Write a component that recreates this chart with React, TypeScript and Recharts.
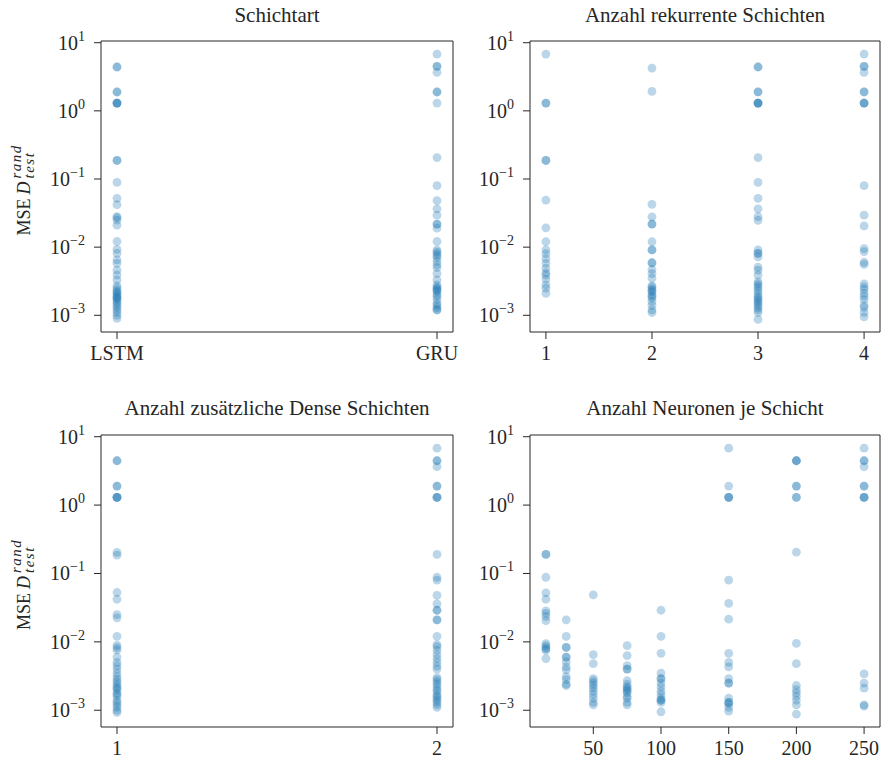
import React from 'react';
import { ScatterChart, Scatter, XAxis, YAxis, ReferenceLine } from 'recharts';

const FONT = '"Liberation Serif", "Times New Roman", serif';
const INK = '#262626';
const DOT = '#1f77b4';

// Panel 1: Schichtart
const layerTypes = ['LSTM', 'GRU'];
const mseLSTM = [4.4, 4.4, 1.89, 1.89, 1.3, 1.3, 1.3, 1.3, 0.187, 0.187, 0.089, 0.052, 0.042, 0.028, 0.027, 0.0249, 0.021, 0.0121, 0.0093, 0.0081, 0.0065, 0.0058, 0.0046, 0.0039, 0.0033, 0.0027, 0.0025, 0.0023, 0.0022, 0.0021, 0.002, 0.0019, 0.0018, 0.0018, 0.0017, 0.0016, 0.0015, 0.0014, 0.0013, 0.0012, 0.0011, 0.001, 0.0009];
const mseGRU = [6.8, 4.5, 4.5, 3.67, 1.89, 1.89, 1.3, 0.206, 0.08, 0.048, 0.0365, 0.0295, 0.0218, 0.0218, 0.019, 0.0121, 0.0091, 0.0085, 0.008, 0.0075, 0.007, 0.0062, 0.0055, 0.005, 0.0041, 0.0033, 0.0028, 0.0026, 0.0025, 0.0024, 0.0023, 0.0022, 0.002, 0.0019, 0.0017, 0.0015, 0.0014, 0.0013, 0.0012, 0.0012];

// Panel 2: Anzahl rekurrente Schichten
const recurrentCounts = [1, 2, 3, 4];
const mseRec1 = [6.8, 1.3, 1.3, 0.187, 0.187, 0.049, 0.0192, 0.012, 0.0091, 0.008, 0.0068, 0.0058, 0.0049, 0.0042, 0.0039, 0.0034, 0.0028, 0.0025, 0.0021];
const mseRec2 = [4.25, 1.93, 0.0423, 0.0279, 0.0218, 0.0218, 0.012, 0.0091, 0.0091, 0.0059, 0.0059, 0.0047, 0.0041, 0.0035, 0.0027, 0.0026, 0.0024, 0.0023, 0.0022, 0.002, 0.0019, 0.0018, 0.0016, 0.0014, 0.0012, 0.0011];
const mseRec3 = [4.4, 4.4, 1.9, 1.9, 1.3, 1.3, 1.3, 1.3, 0.206, 0.089, 0.052, 0.0365, 0.028, 0.0248, 0.0091, 0.0081, 0.0081, 0.0072, 0.0051, 0.0046, 0.0039, 0.0031, 0.0029, 0.0027, 0.0025, 0.0023, 0.0021, 0.0019, 0.0018, 0.0017, 0.0016, 0.0015, 0.0014, 0.0013, 0.0012, 0.0011, 0.00087];
const mseRec4 = [6.8, 4.5, 4.5, 3.67, 1.9, 1.9, 1.3, 1.3, 1.3, 0.08, 0.0295, 0.0205, 0.0095, 0.0086, 0.006, 0.0056, 0.0029, 0.0026, 0.0024, 0.0021, 0.0019, 0.0017, 0.0014, 0.0013, 0.0011, 0.00095];

// Panel 3: Anzahl zusätzliche Dense Schichten
const denseCounts = [1, 2];
const mseDense1 = [4.45, 4.45, 1.9, 1.9, 1.3, 1.3, 1.3, 1.3, 0.203, 0.185, 0.0527, 0.042, 0.025, 0.0225, 0.012, 0.0089, 0.0082, 0.0076, 0.006, 0.005, 0.0045, 0.004, 0.0035, 0.0031, 0.0028, 0.0026, 0.0024, 0.0022, 0.0021, 0.002, 0.0018, 0.0017, 0.0016, 0.0014, 0.0013, 0.0012, 0.0011, 0.001, 0.00093];
const mseDense2 = [6.8, 4.45, 4.45, 3.64, 1.9, 1.9, 1.3, 1.3, 1.3, 0.19, 0.088, 0.08, 0.048, 0.036, 0.029, 0.029, 0.021, 0.021, 0.012, 0.0091, 0.0085, 0.0075, 0.0065, 0.0057, 0.005, 0.0044, 0.004, 0.003, 0.0028, 0.0026, 0.0024, 0.0022, 0.002, 0.0019, 0.0017, 0.0016, 0.0015, 0.0014, 0.0013, 0.0012, 0.0011];

// Panel 4: Anzahl Neuronen je Schicht
const neuronCounts = [15, 30, 50, 75, 100, 150, 200, 250];
const mseN15 = [0.19, 0.19, 0.088, 0.052, 0.042, 0.0283, 0.026, 0.0235, 0.0205, 0.0094, 0.0088, 0.0082, 0.0079, 0.0075, 0.0057];
const mseN30 = [0.021, 0.012, 0.0083, 0.0083, 0.006, 0.006, 0.0051, 0.0043, 0.0039, 0.0031, 0.0028, 0.0024, 0.0023];
const mseN50 = [0.0486, 0.0065, 0.0048, 0.0029, 0.0027, 0.0025, 0.0023, 0.0021, 0.0019, 0.0017, 0.0015, 0.0013, 0.0012];
const mseN75 = [0.0088, 0.0063, 0.0045, 0.004, 0.004, 0.0027, 0.0024, 0.0022, 0.0021, 0.002, 0.0019, 0.0018, 0.0016, 0.0015, 0.0013, 0.0012];
const mseN100 = [0.029, 0.012, 0.0068, 0.0035, 0.0029, 0.0029, 0.0025, 0.0022, 0.0019, 0.0017, 0.0015, 0.0014, 0.0014, 0.0013, 0.00095];
const mseN150 = [6.8, 1.9, 1.3, 1.3, 1.3, 0.08, 0.0365, 0.0215, 0.0068, 0.005, 0.0043, 0.0029, 0.0025, 0.0025, 0.0015, 0.0013, 0.0013, 0.00125, 0.0011, 0.00097];
const mseN200 = [4.45, 4.45, 4.45, 1.9, 1.9, 1.3, 1.3, 0.205, 0.0095, 0.0048, 0.0023, 0.002, 0.0018, 0.0016, 0.0014, 0.0012, 0.00088];
const mseN250 = [6.8, 4.45, 4.45, 3.64, 1.9, 1.9, 1.3, 1.3, 1.3, 0.0034, 0.0025, 0.0021, 0.0012, 0.00115];
const neuronTicks = [50, 100, 150, 200, 250];

const yTicks = [0.001, 0.01, 0.1, 1, 10];
const yDomain = [Math.pow(10, -3.245), Math.pow(10, 1.025)];

const toPoints = (xs: number[], groups: number[][]) =>
  groups.flatMap((g, i) => g.map((v) => ({ x: xs[i], y: v })));

const dataType = toPoints([0, 1], [mseLSTM, mseGRU]);
const dataRec = toPoints(recurrentCounts, [mseRec1, mseRec2, mseRec3, mseRec4]);
const dataDense = toPoints(denseCounts, [mseDense1, mseDense2]);
const dataNeur = toPoints(neuronCounts, [mseN15, mseN30, mseN50, mseN75, mseN100, mseN150, mseN200, mseN250]);

const Dot = (props: any) => (
  <circle cx={props.cx} cy={props.cy} r={4.4} fill={DOT} fillOpacity={0.3} />
);

const LogTick = (props: any) => {
  const { x, y, payload } = props;
  const e = Math.round(Math.log10(payload.value));
  const exp = e < 0 ? `\u2212${-e}` : `${e}`;
  return (
    <text x={x} y={y + 7} textAnchor="end" fontFamily={FONT} fill={INK} fontSize={20}>
      <tspan>10</tspan>
      <tspan dy={-9} fontSize={14}>{exp}</tspan>
    </text>
  );
};

const makeXTick = (fmt: (v: number) => string) => (props: any) => (
  <text x={props.x} y={props.y} dy={19} textAnchor="middle" fontFamily={FONT} fill={INK} fontSize={20}>
    {fmt(props.payload.value)}
  </text>
);

const YLabel = (props: any) => {
  const vb = props.viewBox || {};
  const cy = (vb.y || 0) + (vb.height || 0) / 2;
  const bx = (vb.x || 0) + 30;
  return (
    <g transform={`translate(${bx}, ${cy}) rotate(-90)`} fontFamily={FONT} fill={INK}>
      <text x={-49} y={0} fontSize={18}>MSE</text>
      <text x={-8} y={0} fontSize={18} fontStyle="italic">D</text>
      <text x={8} y={-9} fontSize={15} fontStyle="italic" letterSpacing={1.5}>rand</text>
      <text x={8} y={4} fontSize={15} fontStyle="italic" letterSpacing={1.5}>test</text>
    </g>
  );
};

type PanelProps = {
  left: number;
  top: number;
  width: number;
  height: number;
  marginTop: number;
  marginRight: number;
  marginBottom: number;
  yAxisWidth: number;
  titleTop: number;
  title: string;
  data: { x: number; y: number }[];
  xDomain: number[];
  xTicks: number[];
  xFmt: (v: number) => string;
  showYLabel: boolean;
};

const Panel = (p: PanelProps) => {
  const plotLeft = p.yAxisWidth;
  const plotRight = p.width - p.marginRight;
  return (
    <div style={{ position: 'absolute', left: p.left, top: p.top, width: p.width, height: p.height }}>
      <div
        style={{
          position: 'absolute',
          left: plotLeft,
          width: plotRight - plotLeft,
          top: p.titleTop,
          textAlign: 'center',
          fontFamily: FONT,
          fontSize: 21,
          color: INK,
          lineHeight: '24px',
          whiteSpace: 'nowrap',
        }}
      >
        {p.title}
      </div>
      <ScatterChart
        width={p.width}
        height={p.height}
        margin={{ top: p.marginTop, right: p.marginRight, bottom: p.marginBottom, left: 0 }}
      >
        <XAxis
          xAxisId="main"
          dataKey="x"
          type="number"
          domain={p.xDomain}
          ticks={p.xTicks}
          allowDataOverflow
          height={40}
          tickSize={7}
          tickMargin={2}
          axisLine={{ stroke: INK, strokeWidth: 1 }}
          tickLine={{ stroke: INK, strokeWidth: 1 }}
          tick={makeXTick(p.xFmt)}
          interval={0}
        />
        <YAxis
          yAxisId="main"
          dataKey="y"
          type="number"
          scale="log"
          domain={yDomain}
          ticks={yTicks}
          allowDataOverflow
          width={p.yAxisWidth}
          tickSize={7}
          tickMargin={9}
          axisLine={{ stroke: INK, strokeWidth: 1 }}
          tickLine={{ stroke: INK, strokeWidth: 1 }}
          tick={<LogTick />}
          interval={0}
          label={p.showYLabel ? <YLabel /> : undefined}
        />
        <ReferenceLine xAxisId="main" yAxisId="main" y={yDomain[1]} stroke={INK} strokeWidth={1} ifOverflow="visible" />
        <ReferenceLine xAxisId="main" yAxisId="main" x={p.xDomain[1]} stroke={INK} strokeWidth={1} ifOverflow="visible" />
        <Scatter xAxisId="main" yAxisId="main" data={p.data} shape={Dot} isAnimationActive={false} />
      </ScatterChart>
    </div>
  );
};

export default function App() {
  return (
    <div style={{ position: 'absolute', left: 0, top: 0, width: 881, height: 760, background: '#fff' }}>
      <Panel
        left={0} top={0} width={460} height={380}
        marginTop={41} marginRight={7} marginBottom={8} yAxisWidth={101}
        titleTop={3}
        title="Schichtart"
        data={dataType}
        xDomain={[-0.05, 1.05]}
        xTicks={[0, 1]}
        xFmt={(v) => layerTypes[v]}
        showYLabel
      />
      <Panel
        left={440} top={0} width={441} height={380}
        marginTop={41} marginRight={1} marginBottom={8} yAxisWidth={90}
        titleTop={3}
        title="Anzahl rekurrente Schichten"
        data={dataRec}
        xDomain={[0.85, 4.15]}
        xTicks={recurrentCounts}
        xFmt={(v) => String(v)}
        showYLabel={false}
      />
      <Panel
        left={0} top={380} width={460} height={380}
        marginTop={55} marginRight={7} marginBottom={-7} yAxisWidth={101}
        titleTop={16}
        title="Anzahl zusätzliche Dense Schichten"
        data={dataDense}
        xDomain={[0.95, 2.05]}
        xTicks={denseCounts}
        xFmt={(v) => String(v)}
        showYLabel
      />
      <Panel
        left={440} top={380} width={441} height={380}
        marginTop={55} marginRight={1} marginBottom={-7} yAxisWidth={90}
        titleTop={16}
        title="Anzahl Neuronen je Schicht"
        data={dataNeur}
        xDomain={[3.25, 261.75]}
        xTicks={neuronTicks}
        xFmt={(v) => String(v)}
        showYLabel={false}
      />
    </div>
  );
}
